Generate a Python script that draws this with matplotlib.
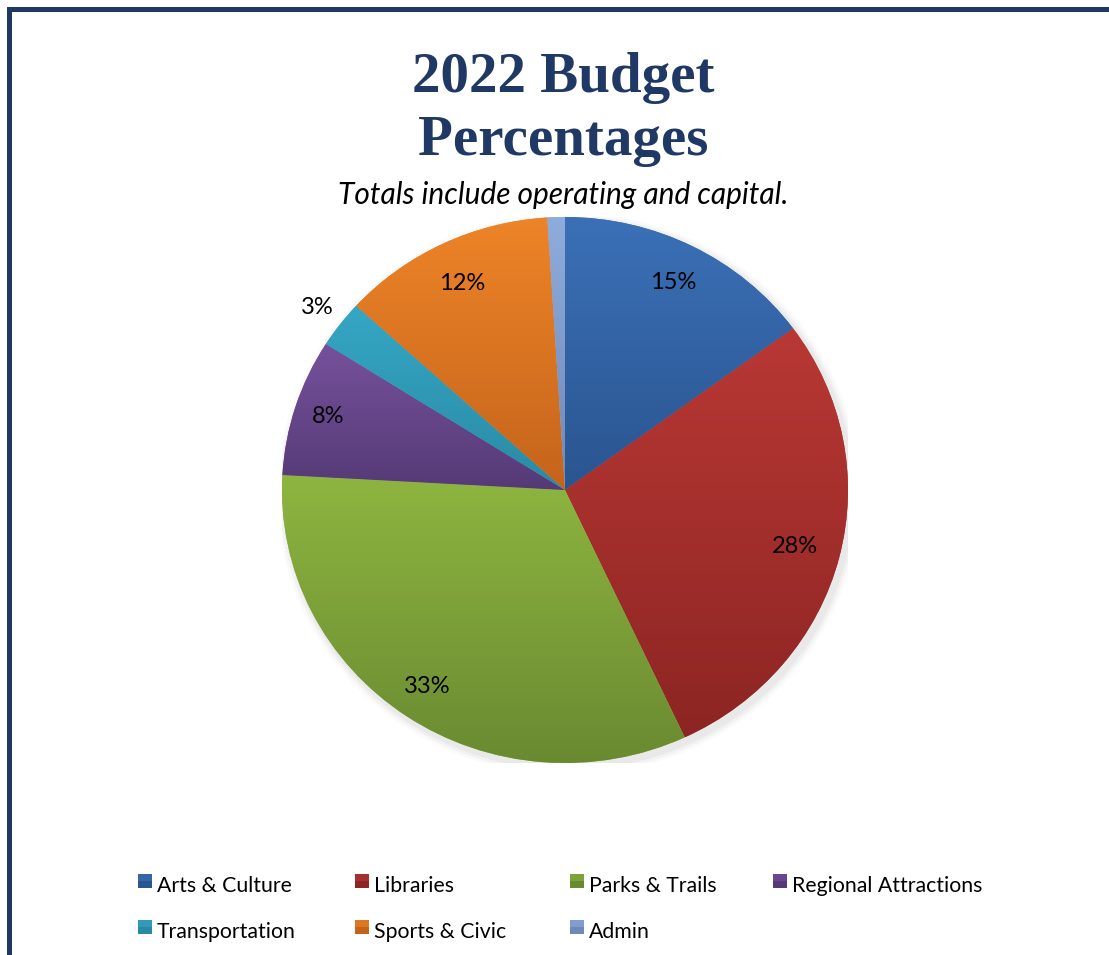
import numpy as np
import matplotlib
matplotlib.use("Agg")
import matplotlib.pyplot as plt
from matplotlib.colors import LinearSegmentedColormap
from matplotlib.patches import Rectangle, Ellipse

# 数据
categories = ["Arts & Culture", "Libraries", "Parks & Trails", "Regional Attractions",
              "Transportation", "Sports & Civic", "Admin"]
shares = [14.9, 28.1, 32.8, 8.1, 2.8, 12.2, 1.0]
pct_labels = ["15%", "28%", "33%", "8%", "3%", "12%", ""]

# 每个扇区的渐变色 (上, 下)
top_colors = ["#3B70B7", "#B93834", "#8EB540", "#76519C", "#35A7C5", "#EE8428", "#8FACDC"]
bottom_colors = ["#2A5590", "#8C2523", "#6A8A31", "#553A76", "#2A8AA4", "#C4641B", "#6F89B8"]
label_radius = [0.85, 0.84, 0.87, 0.88, 1.10, 0.84, 0]

navy = "#1F3864"

fig = plt.figure(figsize=(11.09, 9.55), dpi=100)

# 背景坐标系 (像素坐标), 用于边框和文字
bg = fig.add_axes([0, 0, 1, 1])
bg.set_xlim(0, 1109)
bg.set_ylim(955, 0)
bg.axis("off")

# 边框 (左, 上)
bg.plot([9, 9], [958, 9], color=navy, linewidth=3.6, solid_capstyle="projecting")
bg.plot([9, 1112], [9, 9], color=navy, linewidth=3.6, solid_capstyle="projecting")

# 标题
bg.text(563, 92, "2022 Budget", ha="center", va="baseline", fontsize=41,
        fontweight="bold", family="Liberation Serif", color=navy)
bg.text(563, 155, "Percentages", ha="center", va="baseline", fontsize=41,
        fontweight="bold", family="Liberation Serif", color=navy)
bg.text(563, 204, "Totals include operating and capital.", ha="center", va="baseline",
        fontsize=21.5, style="italic", family="Lato", color="black")

# 饼图
cx, cy, rx, ry = 565, 490, 283, 273
ax = fig.add_axes([(cx - rx) / 1109, (955 - (cy + ry)) / 955, 2 * rx / 1109, 2 * ry / 955])

# 阴影
for k, a in zip([1.03, 1.02, 1.01], [0.04, 0.06, 0.08]):
    ax.add_patch(Ellipse((0.012, -0.015), 2 * k, 2 * k, facecolor="gray",
                         edgecolor="none", alpha=a, zorder=0))

wedges, _ = ax.pie(shares, startangle=90, counterclock=False, radius=1,
                   colors=top_colors, wedgeprops=dict(linewidth=0))

grad = np.linspace(0, 1, 256).reshape(-1, 1)
for w, c1, c2 in zip(wedges, top_colors, bottom_colors):
    ext = w.get_path().get_extents()
    cmap = LinearSegmentedColormap.from_list("g", [c1, c2])
    im = ax.imshow(grad, cmap=cmap, origin="upper", aspect="auto",
                   extent=[ext.x0, ext.x1, ext.y0, ext.y1], zorder=w.get_zorder() + 0.1)
    im.set_clip_path(w)

# 百分比标签
for w, lab, r in zip(wedges, pct_labels, label_radius):
    if not lab:
        continue
    th = np.deg2rad((w.theta1 + w.theta2) / 2)
    ax.text(r * np.cos(th), r * np.sin(th), lab, ha="center", va="center",
            fontsize=17, family="Lato", color="black", zorder=5)

ax.set_aspect("auto")
ax.set_xlim(-1, 1)
ax.set_ylim(-1, 1)
ax.axis("off")

# 图例
col_x = [138, 355, 570, 773]
row_y = [884, 930]
for i, (name, c1, c2) in enumerate(zip(categories, top_colors, bottom_colors)):
    x = col_x[i % 4]
    y = row_y[i // 4]
    bg.add_patch(Rectangle((x, y - 10), 14, 14, facecolor=c2, edgecolor="none"))
    bg.add_patch(Rectangle((x, y - 10), 14, 7, facecolor=c1, edgecolor="none", alpha=0.6))
    bg.text(x + 19, y + 8, name, ha="left", va="baseline", fontsize=15.3,
            family="Lato", color="black")

fig.savefig("out.png", dpi=100)
